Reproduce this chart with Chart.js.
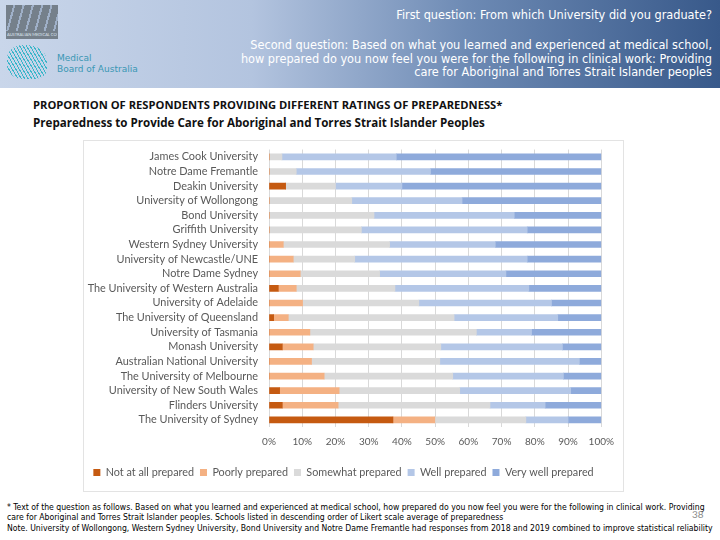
<!DOCTYPE html>
<html>
<head>
<meta charset="utf-8">
<script src="https://cdn.jsdelivr.net/npm/chart.js@4"></script>
<style>
  html, body { margin: 0; padding: 0; }
  body { width: 720px; height: 540px; position: relative; background: #fff; overflow: hidden; font-family: Lato, "Open Sans", sans-serif; }
  #header {
    position: absolute; left: 0; top: 0; width: 720px; height: 88px;
    background: linear-gradient(to right, #c9d6ea 0%, #b3c4df 35%, #6d8ab4 65%, #38598a 100%);
  }
  .hq { position: absolute; right: 8px; color: #fff; text-align: right;
    font-family: "DejaVu Sans Condensed", "Liberation Sans Narrow", sans-serif; font-size: 12.6px; line-height: 13.5px; white-space: nowrap; }
  #amc { position: absolute; left: 6px; top: 5px; width: 52px; height: 26px;
    background: repeating-linear-gradient(105deg, #75808b 0 7px, #9fb0c8 7px 9px); }
  #amc-bar { position: absolute; left: 6px; top: 31px; width: 52px; height: 8px; background: #75808b; }
  #amc-text { position: absolute; left: 7px; top: 32px; width: 50px; font-size: 4px; line-height: 5px; color: #dfe6f0; white-space: nowrap; overflow: hidden; }
  #mba-mark { position: absolute; left: 7px; top: 45px; width: 40px; height: 34px;
    background: repeating-linear-gradient(60deg, #3bb6c9 0 1px, transparent 1px 3px); border-radius: 40% 50% 30% 40%; }
  #mba { position: absolute; left: 57px; top: 53px; color: #3a97b4; font-family: "DejaVu Sans", sans-serif; font-size: 9px; line-height: 11px; }
  .title { position: absolute; left: 33px; font-weight: bold; color: #111; font-family: "Open Sans", sans-serif; white-space: nowrap; }
  #chartbox { position: absolute; left: 83px; top: 140px; width: 541px; height: 352px; border: 1px solid #e3e3e3; box-sizing: border-box; }
  #wrap { position: absolute; left: 84px; top: 132px; width: 539px; height: 359px; }
  #foot { position: absolute; left: 7px; top: 501.5px; font-family: "DejaVu Sans Condensed", "Liberation Sans Narrow", sans-serif;
    font-size: 8.6px; line-height: 10.5px; color: #000; white-space: nowrap; }
  #page { position: absolute; left: 692px; top: 508px; font-size: 10px; color: #8c8c8c; }
</style>
</head>
<body>
<div id="header">
  <div id="amc"></div>
  <div id="amc-bar"></div>
  <div id="amc-text">AUSTRALIAN MEDICAL COUNCIL</div>
  <div id="mba-mark"></div>
  <div id="mba">Medical<br>Board of Australia</div>
  <div class="hq" style="top: 8px;">First question: From which University did you graduate?</div>
  <div class="hq" style="top: 38px;">Second question: Based on what you learned and experienced at medical school,<br>how prepared do you now feel you were for the following in clinical work: Providing<br>care for Aboriginal and Torres Strait Islander peoples</div>
</div>
<div class="title" style="top: 97px; font-size: 11.2px;">PROPORTION OF RESPONDENTS PROVIDING DIFFERENT RATINGS OF PREPAREDNESS*</div>
<div class="title" style="top: 115px; font-size: 11.6px;">Preparedness to Provide Care for Aboriginal and Torres Strait Islander Peoples</div>
<div id="chartbox"></div>
<div id="wrap"><canvas id="chart"></canvas></div>
<div id="foot">* Text of the question as follows. Based on what you learned and experienced at medical school, how prepared do you now feel you were for the following in clinical work. Providing<br>care for Aboriginal and Torres Strait Islander peoples. Schools listed in descending order of Likert scale average of preparedness<br>Note. University of Wollongong, Western Sydney University, Bond University and Notre Dame Fremantle had responses from 2018 and 2019 combined to improve statistical reliability</div>
<div id="page">38</div>
<script>
const universities = [
  'James Cook University', 'Notre Dame Fremantle', 'Deakin University', 'University of Wollongong',
  'Bond University', 'Griffith University', 'Western Sydney University', 'University of Newcastle/UNE',
  'Notre Dame Sydney', 'The University of Western Australia', 'University of Adelaide',
  'The University of Queensland', 'University of Tasmania', 'Monash University',
  'Australian National University', 'The University of Melbourne', 'University of New South Wales',
  'Flinders University', 'The University of Sydney'
];

const notAtAll = [0, 0, 5, 0, 0, 0, 0, 0, 0, 2.8, 0, 1.4, 0, 4, 0, 0, 3.2, 4, 37.3];
const poorly = [0, 0, 0, 0, 0, 0, 4.3, 7.3, 9.4, 5.4, 10.1, 4.4, 12.3, 9.3, 12.8, 16.6, 17.9, 16.8, 12.6];
const somewhat = [3.9, 8.2, 15, 24.9, 31.6, 27.8, 32, 18.5, 23.9, 29.7, 35, 49.9, 50.1, 38.4, 38.6, 38.7, 36.3, 45.7, 27.4];
const well = [34.4, 40.4, 20, 33.2, 42.2, 49.9, 31.8, 51.9, 38, 40.3, 39.9, 31.2, 16.6, 36.6, 42, 33.3, 33.4, 16.6, 12.7];
const veryWell = [61.7, 51.4, 60, 41.9, 26.2, 22.3, 31.9, 22.3, 28.7, 21.8, 15, 13.1, 21, 11.7, 6.6, 11.4, 9.2, 16.9, 10];

const seriesNames = ['Not at all prepared', 'Poorly prepared', 'Somewhat prepared', 'Well prepared', 'Very well prepared'];
const seriesColors = ['#c55a11', '#f4b183', '#dadada', '#b4c7e7', '#8eaadb'];
const xTicks = [0, 10, 20, 30, 40, 50, 60, 70, 80, 90, 100];

const seriesData = [notAtAll, poorly, somewhat, well, veryWell];

new Chart(document.getElementById('chart'), {
  type: 'bar',
  data: {
    labels: universities,
    datasets: seriesData.map((values, i) => ({
      label: seriesNames[i],
      data: values,
      backgroundColor: seriesColors[i],
      barThickness: 6,
    })),
  },
  options: {
    indexAxis: 'y',
    responsive: true,
    maintainAspectRatio: false,
    animation: false,
    layout: { padding: { top: 7, right: 20, bottom: 3, left: 0 } },
    plugins: {
      legend: {
        position: 'bottom',
        labels: {
          boxWidth: 7,
          boxHeight: 7,
          padding: 6,
          color: '#595959',
          font: { family: 'Lato', size: 10.8 },
        },
      },
      tooltip: { enabled: false },
    },
    scales: {
      x: {
        stacked: true,
        min: 0,
        max: 100,
        afterBuildTicks: (scale) => { scale.ticks = xTicks.map((v) => ({ value: v })); },
        ticks: {
          callback: (v) => v + '%',
          color: '#595959',
          font: { family: 'Lato', size: 10 },
          padding: 9,
          maxRotation: 0,
        },
        grid: { color: '#d9d9d9', drawTicks: false },
        border: { display: false },
        afterFit: (scale) => { scale.height = 34; },
      },
      y: {
        stacked: true,
        ticks: {
          color: '#595959',
          font: { family: 'Lato', size: 10.9 },
          padding: 11,
          autoSkip: false,
        },
        grid: { display: false, drawTicks: false },
        border: { display: false },
        afterFit: (scale) => { scale.width = 185; },
      },
    },
  },
});
</script>
</body>
</html>
